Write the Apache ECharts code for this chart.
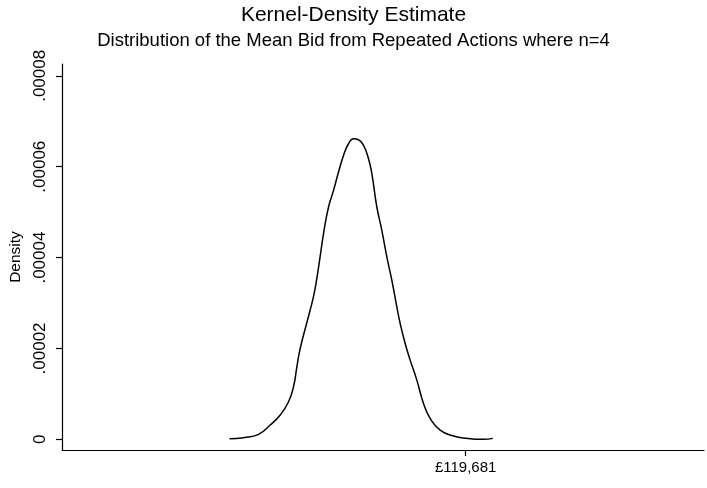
<!DOCTYPE html>
<html>
<head>
<meta charset="utf-8">
<style>
  html, body { margin: 0; padding: 0; background: #fff; }
  #chart { width: 707px; height: 488px; }
</style>
<script src="https://cdn.jsdelivr.net/npm/echarts@6/dist/echarts.min.js"></script>
</head>
<body>
<div id="chart"></div>
<script>
// Mean bid (GBP) at each evaluation point of the kernel-density curve
const meanBid = [
  77171, 79691, 82391, 84491, 86291, 87791, 88691, 89291, 89891, 91091,
  92291, 92891, 93491, 94091, 94991, 95891, 96791, 97691, 98591, 99491,
  100391, 101291, 102191, 102791, 103691, 104591, 105491, 106391, 107291, 107891,
  108791, 109691, 110891, 112091, 113291, 115091, 117491, 119891, 122891, 124571
];
// Estimated density at each evaluation point
const density = [
  0.0000001, 0.00000036, 0.00000109, 0.00000314, 0.00000534, 0.00000827, 0.00001157, 0.00001596, 0.00001999, 0.0000257,
  0.00003145, 0.00003545, 0.0000403, 0.00004527, 0.00005113, 0.00005479, 0.00005882, 0.00006248, 0.00006505, 0.00006615,
  0.00006593, 0.00006468, 0.00006175, 0.00005845, 0.00005113, 0.000046, 0.00004014, 0.00003501, 0.00002915, 0.00002549,
  0.00002109, 0.00001743, 0.00001303, 0.0000079, 0.00000461, 0.00000204, 0.00000073, 0.00000021, 0.0, 0.00000021
];
// Tick positions
const yTicks = [0, 0.00002, 0.00004, 0.00006, 0.00008];
const xTicks = [119681];

const FONT = '"Liberation Sans", Arial, Helvetica, sans-serif';

const chart = echarts.init(document.getElementById('chart'), null, { renderer: 'canvas' });

chart.setOption({
  backgroundColor: '#ffffff',
  animation: false,
  title: [
    {
      text: 'Kernel-Density Estimate',
      left: 'center',
      top: 0,
      textStyle: { fontFamily: FONT, fontSize: 21, fontWeight: 'normal', color: '#000' }
    },
    {
      text: 'Distribution of the Mean Bid from Repeated Actions where n=4',
      left: 'center',
      top: 26,
      textStyle: { fontFamily: FONT, fontSize: 18.5, fontWeight: 'normal', color: '#000' }
    }
  ],
  grid: {
    left: 62, right: 3, top: 64, bottom: 38,
    outerBoundsMode: 'none'
  },
  xAxis: {
    type: 'value',
    min: 47000,
    max: 162600,
    axisLine: { show: true, onZero: false, lineStyle: { color: '#000', width: 1.2 } },
    axisTick: { show: true, length: 6, customValues: xTicks, lineStyle: { color: '#000', width: 1.2 } },
    axisLabel: {
      customValues: xTicks,
      margin: 10,
      fontFamily: FONT, fontSize: 15, color: '#000',
      formatter: v => '£' + Math.round(v).toLocaleString('en-GB')
    },
    splitLine: { show: false }
  },
  yAxis: {
    type: 'value',
    min: -0.00000235,
    max: 0.0000826,
    name: 'Density',
    nameLocation: 'middle',
    nameRotate: 90,
    nameGap: 31,
    nameTextStyle: { fontFamily: FONT, fontSize: 15.5, color: '#000' },
    axisLine: { show: true, onZero: false, lineStyle: { color: '#000', width: 1.2 } },
    axisTick: { show: true, length: 6, customValues: yTicks, lineStyle: { color: '#000', width: 1.2 } },
    axisLabel: {
      customValues: yTicks,
      rotate: 90,
      margin: 13,
      fontFamily: FONT, fontSize: 17, color: '#000',
      formatter: v => (v === 0 ? '0' : v.toFixed(5).replace(/^0/, ''))
    },
    splitLine: { show: false }
  },
  series: [
    {
      type: 'line',
      data: meanBid.map((x, i) => [x, density[i]]),
      smooth: 0.5,
      symbol: 'none',
      lineStyle: { color: '#000', width: 1.5 }
    }
  ]
});
</script>
</body>
</html>
